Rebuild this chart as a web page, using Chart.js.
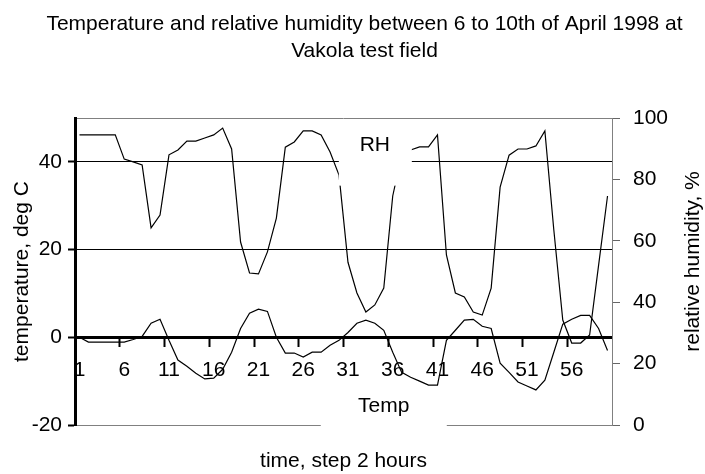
<!DOCTYPE html>
<html>
<head>
<meta charset="utf-8">
<script src="https://cdn.jsdelivr.net/npm/chart.js@4.4.0/dist/chart.umd.min.js"></script>
<style>
  html, body { margin: 0; padding: 0; background: #fff; }
</style>
</head>
<body>
<canvas id="chart" width="705" height="474"></canvas>
<script>
// Datos del gráfico
const steps = [1, 2, 3, 4, 5, 6, 7, 8, 9, 10, 11, 12, 13, 14, 15, 16, 17, 18, 19, 20,
               21, 22, 23, 24, 25, 26, 27, 28, 29, 30, 31, 32, 33, 34, 35, 36, 37, 38, 39, 40,
               41, 42, 43, 44, 45, 46, 47, 48, 49, 50, 51, 52, 53, 54, 55, 56, 57, 58, 59, 60];
const xTickLabels = [1, 6, 11, 16, 21, 26, 31, 36, 41, 46, 51, 56];
const tempTicks = [-20, 0, 20, 40];
const rhTicks = [0, 20, 40, 60, 80, 100];

const tempValues = [0, -1.1, -1.1, -1.1, -1.1, -1.1, -0.5, 0.2, 3.2, 4.1,
                    -0.7, -5.2, -6.6, -8.2, -9.5, -9.3, -7.3, -3.4, 2.0, 5.5,
                    6.4, 5.9, 0.0, -3.6, -3.6, -4.5, -3.4, -3.4, -1.8, -0.7,
                    1.1, 3.2, 3.9, 3.2, 1.6, -3.4, -8.0, -9.1, -10.0, -10.9,
                    -10.9, -0.7, 1.6, 3.9, 4.1, 2.5, 2.0, -5.9, -8.0, -10.2,
                    -11.1, -12.0, -9.8, -3.4, 3.0, 4.1, 5.0, 5.0, 2.0, -3.0];
const rhValues = [94.5, 94.5, 94.5, 94.5, 94.5, 86.6, 85.7, 84.7, 64.2, 68.4,
                  88.0, 89.6, 92.5, 92.5, 93.5, 94.5, 96.7, 89.9, 59.6, 49.5,
                  49.2, 56.4, 67.4, 90.5, 92.2, 95.8, 95.8, 94.5, 88.9, 81.4,
                  53.0, 43.0, 36.8, 39.1, 44.6, 74.6, 88.0, 89.6, 90.6, 90.6,
                  94.5, 55.4, 43.0, 41.7, 36.8, 35.8, 44.6, 77.5, 87.9, 89.9,
                  89.9, 90.9, 95.8, 63.5, 34.2, 26.7, 26.7, 29.3, 52.0, 74.6];

const titleLines = ['Temperature and relative humidity between 6 to 10th of April 1998 at', 'Vakola test field'];
const FONT = '"Liberation Sans", Arial, Helvetica, sans-serif';

Chart.defaults.font.family = FONT;
Chart.defaults.font.size = 21;
Chart.defaults.color = '#000';

// Etiquetas "RH" y "Temp" con fondo blanco + título del eje derecho
const labelsPlugin = {
    id: 'seriesLabels',
    afterDraw(chart) {
        const { ctx, chartArea } = chart;
        const x = chart.scales.x, y = chart.scales.y, y1 = chart.scales.y1;
        ctx.save();
        ctx.font = '21px ' + FONT;
        ctx.textAlign = 'center';
        ctx.textBaseline = 'middle';

        // RH
        let cx = x.getPixelForValue(33), cy = y1.getPixelForValue(91);
        ctx.fillStyle = '#fff';
        ctx.fillRect(cx - 36, cy - 22, 73, 62);
        ctx.fillStyle = '#000';
        ctx.fillText('RH', cx, cy);

        // Temp
        cx = x.getPixelForValue(34); cy = y.getPixelForValue(-15.7);
        ctx.fillStyle = '#fff';
        ctx.fillRect(cx - 63, cy - 13, 126, 34);
        ctx.fillStyle = '#000';
        ctx.fillText('Temp', cx, cy);

        // título del eje secundario (leído de abajo hacia arriba)
        ctx.translate(chartArea.right + 81, (chartArea.top + chartArea.bottom) / 2 - 10);
        ctx.rotate(-Math.PI / 2);
        ctx.fillText('relative humidity, %', 0, 0);
        ctx.restore();
    }
};

new Chart(document.getElementById('chart').getContext('2d'), {
    type: 'line',
    data: {
        labels: steps,
        datasets: [
            { label: 'Temp', data: tempValues, xAxisID: 'x', yAxisID: 'y', borderColor: '#000', borderWidth: 1.2, pointRadius: 0, tension: 0, fill: false },
            { label: 'RH', data: rhValues, xAxisID: 'x', yAxisID: 'y1', borderColor: '#000', borderWidth: 1.2, pointRadius: 0, tension: 0, fill: false }
        ]
    },
    options: {
        responsive: false,
        animation: false,
        layout: { padding: { left: 0, right: -24, top: 0, bottom: 0 } },
        plugins: {
            legend: { display: false },
            tooltip: { enabled: false },
            title: {
                display: true,
                text: titleLines,
                color: '#000',
                font: { size: 21, weight: 'normal', lineHeight: 1.3 },
                padding: { top: 10.75, bottom: 52.65 }
            }
        },
        scales: {
            x: {
                type: 'category',
                position: { y: 0 },
                offset: true,
                grid: {
                    offset: true,
                    drawOnChartArea: false,
                    tickLength: 8,
                    tickWidth: 2,
                    tickColor: ctx => (ctx.index > 0 && ctx.index % 5 === 0) ? '#000' : 'rgba(0,0,0,0)'
                },
                border: { color: '#000', width: 3 },
                ticks: {
                    autoSkip: false,
                    maxRotation: 0,
                    minRotation: 0,
                    padding: 12,
                    callback: (value, index) => xTickLabels.includes(steps[index]) ? String(steps[index]) : ''
                },
                afterFit: s => { s.height = 0; }
            },
            x2: {
                type: 'category',
                position: 'bottom',
                grid: { display: false, drawTicks: false },
                border: { display: false },
                ticks: { display: false },
                title: { display: true, text: 'time, step 2 hours', padding: { top: 0, bottom: 0 } },
                afterFit: s => { s.height = 49; }
            },
            y: {
                position: 'left',
                min: -20,
                max: 50,
                afterBuildTicks: s => { s.ticks = tempTicks.map(v => ({ value: v })); },
                grid: {
                    color: ctx => (ctx.tick && ctx.tick.value === -20) ? '#808080' : '#000',
                    lineWidth: 1,
                    tickLength: 7,
                    tickWidth: 2,
                    tickColor: '#000'
                },
                border: { color: '#000', width: 3 },
                ticks: { padding: 6 },
                title: { display: true, text: 'temperature, deg C', padding: { top: 10, bottom: 0 } },
                afterFit: s => { s.width = 75; }
            },
            y1: {
                position: 'right',
                min: 0,
                max: 100,
                afterBuildTicks: s => { s.ticks = rhTicks.map(v => ({ value: v })); },
                grid: {
                    color: ctx => (ctx.tick && ctx.tick.value === 100) ? '#808080' : 'rgba(0,0,0,0)',
                    lineWidth: 1,
                    tickLength: 8,
                    tickColor: '#666'
                },
                border: { color: '#808080', width: 1 },
                ticks: { padding: 13 },
                afterFit: s => { s.width = 117; }
            }
        }
    },
    plugins: [labelsPlugin]
});
</script>
</body>
</html>
